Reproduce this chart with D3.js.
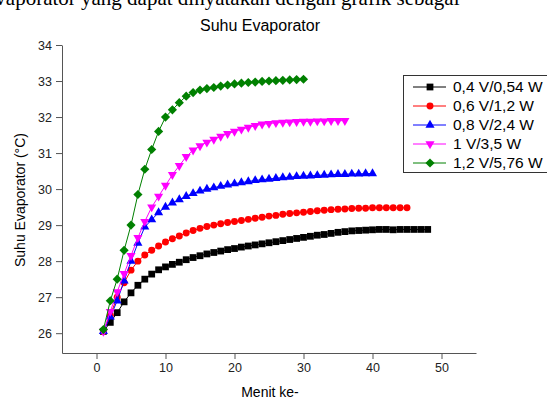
<!DOCTYPE html>
<html>
<head>
<meta charset="utf-8">
<script src="https://cdn.jsdelivr.net/npm/d3@7"></script>
<style>
  body { margin: 0; background: #fff; }
  svg { display: block; }
</style>
</head>
<body>
<svg id="chart" width="547" height="399"></svg>
<script>
// series data (minute 1..n, temperature in °C)
const labels = ['0,4 V/0,54 W', '0,6 V/1,2 W', '0,8 V/2,4 W', '1 V/3,5 W', '1,2 V/5,76 W'];
const colors = ['#000000', '#ff0000', '#0000ff', '#ff00ff', '#008000'];

const s04 = [26.05, 26.3, 26.57, 26.87, 27.12, 27.33, 27.5, 27.64, 27.76, 27.84,
  27.91, 27.97, 28.04, 28.1, 28.15, 28.2, 28.24, 28.28, 28.32, 28.35,
  28.39, 28.42, 28.45, 28.48, 28.51, 28.54, 28.57, 28.6, 28.63, 28.66,
  28.69, 28.72, 28.74, 28.77, 28.8, 28.82, 28.84, 28.85, 28.86, 28.87,
  28.88, 28.88, 28.87, 28.88, 28.88, 28.88, 28.88, 28.88];
const s06 = [26.05, 26.5, 27.0, 27.4, 27.75, 28.0, 28.17, 28.3, 28.42, 28.53,
  28.62, 28.7, 28.78, 28.85, 28.91, 28.96, 29.0, 29.04, 29.07, 29.1,
  29.13, 29.16, 29.19, 29.22, 29.25, 29.27, 29.3, 29.32, 29.34, 29.36,
  29.38, 29.4, 29.41, 29.43, 29.44, 29.45, 29.46, 29.47, 29.47, 29.48,
  29.48, 29.48, 29.48, 29.48, 29.48];
const s08 = [26.05, 26.45, 26.9, 27.45, 28.0, 28.5, 28.95, 29.15, 29.35, 29.5,
  29.62, 29.71, 29.8, 29.88, 29.95, 30.0, 30.04, 30.08, 30.12, 30.15,
  30.18, 30.21, 30.24, 30.26, 30.28, 30.3, 30.32, 30.33, 30.35, 30.36,
  30.37, 30.38, 30.39, 30.4, 30.41, 30.41, 30.42, 30.42, 30.43, 30.43];
const s10 = [26.05, 26.6, 27.15, 27.65, 28.15, 28.65, 29.1, 29.5, 29.8, 30.1,
  30.4, 30.65, 30.9, 31.08, 31.2, 31.3, 31.38, 31.46, 31.54, 31.6,
  31.66, 31.71, 31.76, 31.8, 31.82, 31.84, 31.85, 31.86, 31.87, 31.88,
  31.88, 31.89, 31.89, 31.9, 31.9, 31.9];
const s12 = [26.1, 26.9, 27.5, 28.3, 29.0, 29.85, 30.55, 31.1, 31.6, 32.0,
  32.2, 32.4, 32.58, 32.68, 32.75, 32.79, 32.82, 32.86, 32.89, 32.92,
  32.94, 32.96, 32.97, 32.99, 33.0, 33.01, 33.02, 33.03, 33.04, 33.05];

const seriesValues = [s04, s06, s08, s10, s12];
const xTicks = [0, 10, 20, 30, 40, 50];
const yTicks = [26, 27, 28, 29, 30, 31, 32, 33, 34];

const svg = d3.select('#chart');
const font = 'Liberation Sans, Arial, sans-serif';

// cut-off line of document text above the figure (only its lower part shows)
svg.append('text')
  .attr('x', -14).attr('y', 5)
  .attr('font-family', 'Liberation Serif, Times New Roman, serif')
  .attr('font-size', 21)
  .attr('fill', '#000')
  .text('evaporator yang dapat dinyatakan dengan grafik sebagai');

const x = d3.scaleLinear().domain([-5, 55]).range([62, 476]);
const y = d3.scaleLinear().domain([25.45, 34]).range([353, 45]);

// title
svg.append('text')
  .attr('x', 260).attr('y', 31)
  .attr('text-anchor', 'middle')
  .attr('font-family', font).attr('font-size', 16)
  .text('Suhu Evaporator');

// axes: minor ticks first, then major with labels
const axisColor = '#555';
const gx = svg.append('g').attr('transform', 'translate(0,353)');
gx.call(d3.axisBottom(x).tickValues(d3.range(-5, 56, 5)).tickSize(3).tickFormat(''));
gx.call(d3.axisBottom(x).tickValues(xTicks).tickSize(6).tickSizeOuter(0).tickPadding(4));

const gy = svg.append('g').attr('transform', 'translate(62,0)');
gy.call(d3.axisLeft(y).tickValues(d3.range(25.5, 34.01, 0.5)).tickSize(3).tickFormat(''));
gy.call(d3.axisLeft(y).tickValues(yTicks).tickSize(6).tickSizeOuter(0).tickPadding(4));

svg.selectAll('.domain').attr('stroke', axisColor);
svg.selectAll('.tick line').attr('stroke', axisColor);
svg.selectAll('.tick text')
  .attr('font-family', font).attr('font-size', 12.5).attr('fill', '#222');

// axis titles
svg.append('text')
  .attr('x', 270).attr('y', 397)
  .attr('text-anchor', 'middle')
  .attr('font-family', font).attr('font-size', 14)
  .text('Menit ke-');

svg.append('text')
  .attr('transform', 'translate(25,200) rotate(-90)')
  .attr('text-anchor', 'middle')
  .attr('font-family', font).attr('font-size', 14)
  .text('Suhu Evaporator (\u00B0C)');

// symbols
const symbols = [
  { type: d3.symbolSquare, size: 46, rot: 0 },
  { type: d3.symbolCircle, size: 38, rot: 0 },
  { type: d3.symbolTriangle, size: 36, rot: 0 },
  { type: d3.symbolTriangle, size: 36, rot: 180 },
  { type: d3.symbolSquare, size: 42, rot: 45 }
];

const line = d3.line().x(d => x(d.t)).y(d => y(d.v));
const plot = svg.append('g');

seriesValues.forEach((vals, i) => {
  const pts = vals.map((v, k) => ({ t: k + 1, v: v }));
  plot.append('path')
    .datum(pts)
    .attr('d', line)
    .attr('fill', 'none')
    .attr('stroke', colors[i])
    .attr('stroke-width', 1);
  const sym = d3.symbol().type(symbols[i].type).size(symbols[i].size);
  plot.selectAll('.m' + i)
    .data(pts)
    .enter()
    .append('path')
    .attr('class', 'm' + i)
    .attr('d', sym)
    .attr('transform', d => `translate(${x(d.t)},${y(d.v)}) rotate(${symbols[i].rot})`)
    .attr('fill', colors[i]);
});

// legend
const lg = svg.append('g');
lg.append('rect')
  .attr('x', 403.5).attr('y', 75.5)
  .attr('width', 150).attr('height', 97)
  .attr('fill', '#fff').attr('stroke', '#333').attr('stroke-width', 1);

labels.forEach((lab, i) => {
  const ly = 87 + i * 19;
  lg.append('line')
    .attr('x1', 413).attr('x2', 446)
    .attr('y1', ly).attr('y2', ly)
    .attr('stroke', colors[i]).attr('stroke-width', 1);
  lg.append('path')
    .attr('d', d3.symbol().type(symbols[i].type).size(symbols[i].size))
    .attr('transform', `translate(430,${ly}) rotate(${symbols[i].rot})`)
    .attr('fill', colors[i]);
  lg.append('text')
    .attr('x', 453).attr('y', ly + 5)
    .attr('font-family', font).attr('font-size', 15.5)
    .text(lab);
});
</script>
</body>
</html>
